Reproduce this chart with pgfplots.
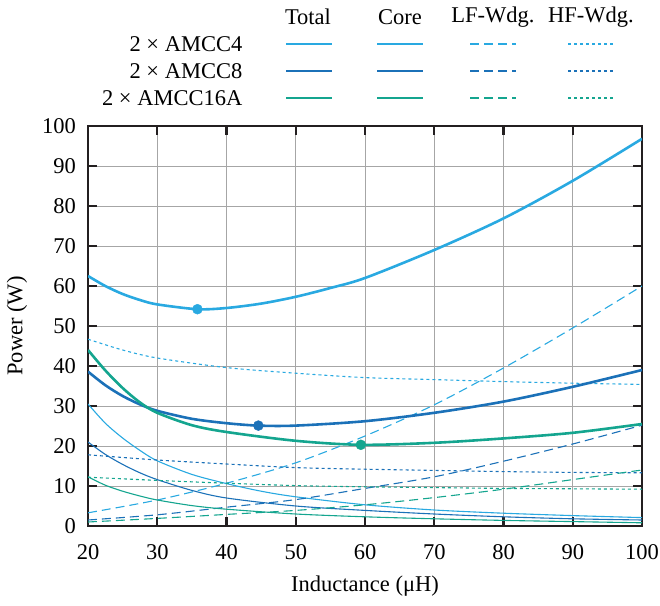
\documentclass[border=0pt]{standalone}
\usepackage{pgfplots}
\pgfplotsset{compat=1.18}
\usepackage{fontspec}
\setmainfont{Liberation Serif}
\definecolor{cA}{HTML}{29A9E1}
\definecolor{cB}{HTML}{1B71B8}
\definecolor{cC}{HTML}{14A58F}
\definecolor{gridc}{HTML}{A6A6A6}
\definecolor{axc}{HTML}{231F20}
\tikzset{
  tot/.style={line width=2.6pt},
  cor/.style={line width=1.1pt},
  lfw/.style={line width=1.1pt, dash pattern=on 9pt off 5pt},
  hfw/.style={line width=1.1pt, dash pattern=on 3pt off 3pt},
}
\newcommand{\bigf}{\fontsize{22.5}{27}\selectfont}
\begin{document}
\bigf
\begin{tikzpicture}
\useasboundingbox (0,0) rectangle (660pt,605pt);
\begin{axis}[
  at={(88pt,79pt)}, anchor=south west,
  scale only axis, width=554pt, height=400pt,
  xmin=20, xmax=100, ymin=0, ymax=100,
  xtick={20,30,...,100}, ytick={0,10,...,100},
  tick align=inside, major tick length=9pt,
  tick style={line width=2.2pt, color=axc},
  axis line style={line width=2.6pt, color=axc},
  grid=major, major grid style={line width=0.9pt, color=gridc},
  /pgf/number format/assume math mode=true,
  tick label style={font=\bigf},
  label style={font=\bigf},
  xticklabel style={yshift=-11pt},
  yticklabel style={xshift=-4.5pt},
  xlabel={Inductance (μH)}, ylabel={Power (W)},
  xlabel style={at={(axis description cs:0.5,-0.15)}, anchor=center},
  ylabel style={at={(axis description cs:-0.128,0.5)}, anchor=center},
  clip=true,
]
% AMCC4
\addplot[cA, tot, smooth] coordinates {(20,62.5)(22.5,60.0)(25,58.0)(27.5,56.5)(30,55.4)(35.8,54.2)(40,54.5)(45,55.6)(50,57.3)(55,59.5)(60,62.0)(70,69.0)(80,76.9)(90,86.3)(100,96.8)};
\addplot[cA, cor, smooth] coordinates {(20,30.5)(22.5,25.7)(25,22.0)(27.5,18.9)(30,16.3)(35,12.9)(40,10.6)(45,8.7)(50,7.3)(60,5.3)(70,4.0)(80,3.2)(90,2.6)(100,2.1)};
\addplot[cA, lfw, smooth] coordinates {(20,3.3)(30,6.5)(40,10.7)(50,15.8)(60,22.5)(70,30.3)(80,39.5)(90,49.5)(100,60.0)};
\addplot[cA, hfw, smooth] coordinates {(20,46.7)(25,44.0)(30,42.0)(40,39.6)(50,38.2)(60,37.1)(70,36.6)(80,36.1)(90,35.7)(100,35.4)};
% AMCC8
\addplot[cB, tot, smooth] coordinates {(20,38.6)(22.5,35.2)(25,32.5)(27.5,30.4)(30,28.8)(35,26.8)(40,25.7)(44.6,25.1)(50,25.1)(60,26.2)(70,28.3)(80,31.1)(90,34.8)(100,39.0)};
\addplot[cB, cor, smooth] coordinates {(20,21.0)(22.5,17.9)(25,15.4)(27.5,13.3)(30,11.6)(35,8.9)(40,7.0)(50,5.0)(60,3.9)(70,3.0)(80,2.3)(90,1.8)(100,1.5)};
\addplot[cB, lfw, smooth] coordinates {(20,1.5)(30,2.8)(40,4.7)(50,6.6)(60,9.4)(70,12.3)(80,16.2)(90,20.5)(100,25.2)};
\addplot[cB, hfw, smooth] coordinates {(20,17.8)(30,16.5)(40,15.5)(50,14.6)(60,14.2)(70,13.9)(80,13.6)(90,13.4)(100,13.3)};
% AMCC16A
\addplot[cC, tot, smooth] coordinates {(20,44.0)(22.5,38.9)(25,34.5)(27.5,30.9)(30,28.3)(35,25.2)(40,23.5)(50,21.3)(59.4,20.3)(70,20.8)(80,21.9)(90,23.3)(100,25.5)};
\addplot[cC, cor, smooth] coordinates {(20,12.3)(22.5,10.2)(25,8.7)(27.5,7.5)(30,6.5)(35,5.1)(40,4.2)(50,3.0)(60,2.3)(70,1.8)(80,1.4)(90,1.1)(100,0.8)};
\addplot[cC, lfw, smooth] coordinates {(20,1.0)(30,1.9)(40,2.9)(50,3.9)(60,5.3)(70,7.1)(80,9.2)(90,11.6)(100,14.0)};
\addplot[cC, hfw, smooth] coordinates {(20,12.2)(30,11.4)(40,10.7)(50,10.1)(60,9.8)(70,9.6)(80,9.4)(90,9.3)(100,9.2)};
% minima
\addplot[cA, only marks, mark=*, mark size=5pt] coordinates {(35.8,54.2)};
\addplot[cB, only marks, mark=*, mark size=5pt] coordinates {(44.6,25.1)};
\addplot[cC, only marks, mark=*, mark size=5pt] coordinates {(59.4,20.3)};
\end{axis}
% legend table
\node at (308pt,588pt) {Total};
\node at (400pt,588pt) {Core};
\node at (493pt,588pt) {LF-Wdg.};
\node at (591pt,588pt) {HF-Wdg.};
\node[anchor=east] at (250pt,561pt) {2 × AMCC4};
\node[anchor=east] at (250pt,534pt) {2 × AMCC8};
\node[anchor=east] at (250pt,507pt) {2 × AMCC16A};
\foreach \c/\y in {cA/561,cB/534,cC/507}{
  \draw[\c, tot] (286pt,\y pt) -- (332pt,\y pt);
  \draw[\c, cor] (377pt,\y pt) -- (423pt,\y pt);
  \draw[\c, lfw] (470pt,\y pt) -- (516pt,\y pt);
  \draw[\c, hfw] (568pt,\y pt) -- (614pt,\y pt);
}
\end{tikzpicture}
\end{document}
